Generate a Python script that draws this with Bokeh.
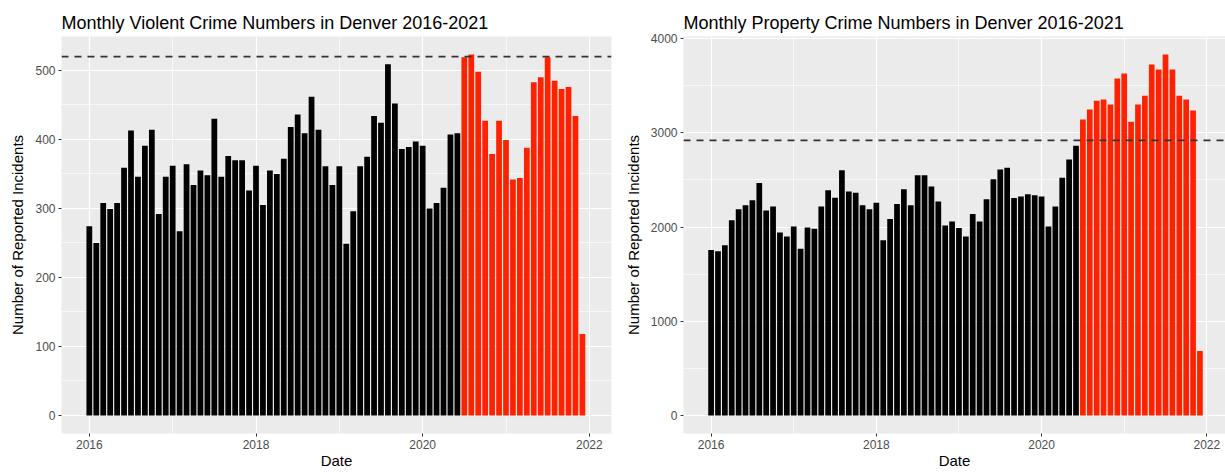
import pandas as pd
from bokeh.plotting import figure
from bokeh.models import Range1d, FixedTicker, Span, ColumnDataSource
from bokeh.layouts import row
from bokeh.embed import file_html
from bokeh.resources import INLINE

# ---------------- data ----------------
start_month = "2016-01"
n_months = 72
highlight_start = "2020-07"

violent = [274, 250, 308, 299, 308, 359, 413, 346, 391, 414, 292, 346,
           362, 267, 364, 334, 355, 348, 430, 346, 376, 370, 370, 326,
           362, 305, 355, 350, 372, 418, 436, 409, 462, 414, 361, 334,
           361, 249, 296, 361, 375, 434, 424, 509, 452, 386, 389, 397,
           391, 300, 308, 330, 407, 409, 519, 523, 498, 427, 379, 427,
           399, 342, 344, 388, 483, 490, 519, 485, 473, 476, 434, 118]

property_crime = [1755, 1744, 1808, 2072, 2189, 2231, 2284, 2468, 2175, 2217, 1942, 1900,
                  2005, 1769, 1995, 1981, 2217, 2390, 2312, 2602, 2376, 2365, 2231, 2189,
                  2259, 1861, 2086, 2245, 2401, 2231, 2549, 2549, 2429, 2270, 2016, 2058,
                  1991, 1899, 2139, 2058, 2295, 2507, 2612, 2630, 2309, 2323, 2348, 2337,
                  2323, 2005, 2217, 2524, 2718, 2863, 3142, 3248, 3340, 3354, 3301, 3576,
                  3629, 3117, 3301, 3393, 3725, 3672, 3831, 3672, 3393, 3354, 3237, 685]

violent_ref = 520
property_ref = 2920

x_ticks = [2016, 2018, 2020, 2022]
x_minor = [2017, 2019, 2021]
violent_ticks = [0, 100, 200, 300, 400, 500]
violent_minor = [50, 150, 250, 350, 450]
property_ticks = [0, 1000, 2000, 3000, 4000]
property_minor = [500, 1500, 2500, 3500]

titles = ["Monthly Violent Crime Numbers in Denver 2016-2021",
          "Monthly Property Crime Numbers in Denver 2016-2021"]
x_label = "Date"
y_label = "Number of Reported Incidents"

# ---------------- helpers ----------------
periods = pd.period_range(start_month, periods=n_months, freq="M")
xs = [p.year + (p.month - 1) / 12 for p in periods]
hl = pd.Period(highlight_start, freq="M")
colors = ["#FF2200" if p >= hl else "black" for p in periods]

FONT = "Liberation Sans"
BAR_W = 0.83 / 12


def panel(title, values, ref, yticks, yminor, x_end, width, mb_left, mb_right):
    ymax = max(values)
    pad = ymax * 0.05
    p = figure(width=width, height=473, output_backend="svg", toolbar_location=None,
               x_range=Range1d(2015.666, x_end), y_range=Range1d(-pad, ymax + pad),
               min_border_left=mb_left, min_border_right=mb_right,
               min_border_top=36, min_border_bottom=40)
    src = ColumnDataSource(dict(x=xs, top=values, color=colors))
    p.vbar(x="x", top="top", width=BAR_W, bottom=0, fill_color="color",
           line_color=None, source=src)
    p.add_layout(Span(location=ref, dimension="width", line_color="#333333",
                      line_width=1.8, line_dash="7 6"))

    p.background_fill_color = "#EBEBEB"
    p.border_fill_color = "white"
    p.outline_line_color = None

    p.xaxis.ticker = FixedTicker(ticks=x_ticks, minor_ticks=x_minor)
    p.yaxis.ticker = FixedTicker(ticks=yticks, minor_ticks=yminor)
    for g in (p.xgrid, p.ygrid):
        g.grid_line_color = "white"
        g.grid_line_width = 1.2
        g.minor_grid_line_color = "white"
        g.minor_grid_line_width = 0.6
    for ax in (p.xaxis, p.yaxis):
        ax.axis_line_color = None
        ax.major_tick_line_color = "#333333"
        ax.major_tick_out = 3
        ax.major_tick_in = 0
        ax.minor_tick_line_color = None
        ax.major_label_text_font = FONT
        ax.major_label_text_font_size = "12px"
        ax.major_label_text_color = "#4D4D4D"
        ax.axis_label_text_font = FONT
        ax.axis_label_text_font_size = "15px"
        ax.axis_label_text_font_style = "normal"
        ax.axis_label_text_color = "black"
        ax.major_label_standoff = 2
        ax.axis_label_standoff = 0
    p.yaxis.axis_label_standoff = 6
    p.xaxis.axis_label = x_label
    p.yaxis.axis_label = y_label
    p.xaxis.major_label_overrides = {t: str(t) for t in x_ticks}

    p.title.text = title
    p.title.text_font = FONT
    p.title.text_font_size = "18px"
    p.title.text_font_style = "normal"
    p.title.text_color = "black"
    p.title.align = "left"
    p.title.standoff = 8
    return p


p1 = panel(titles[0], violent, violent_ref, violent_ticks, violent_minor,
           2022.266, 620, 61, 9)
p2 = panel(titles[1], property_crime, property_ref, property_ticks, property_minor,
           2022.226, 605, 63, 0)

layout = row(p1, p2)
open("out.html", "w").write(file_html(layout, INLINE))
